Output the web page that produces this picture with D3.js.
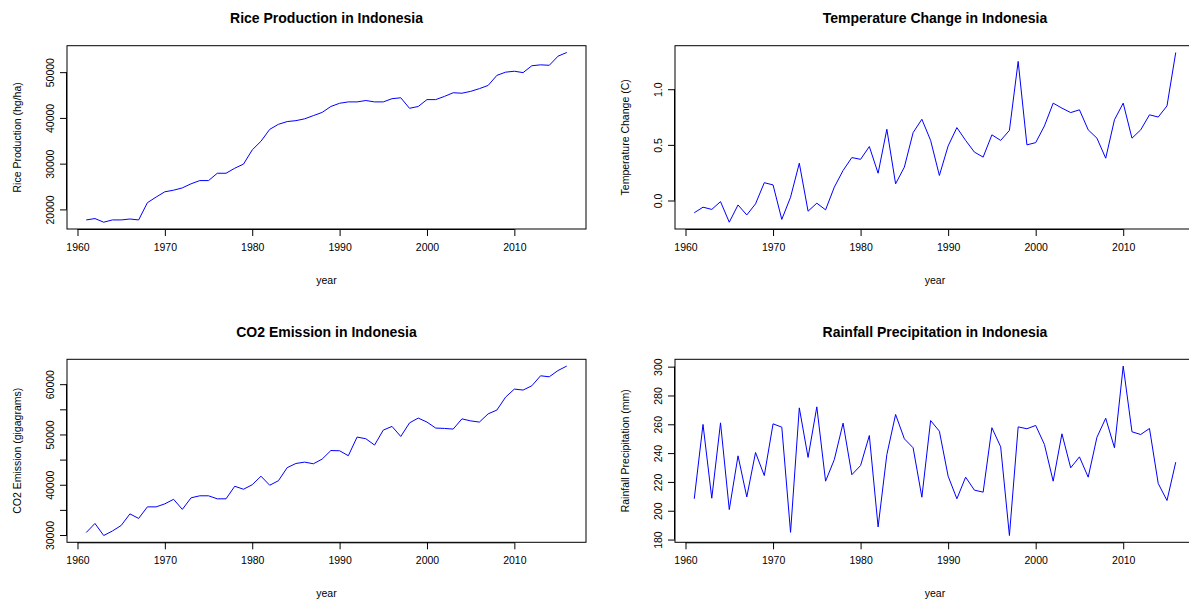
<!DOCTYPE html>
<html>
<head>
<meta charset="utf-8">
<script src="https://cdn.jsdelivr.net/npm/d3@7"></script>
<style>
  body { margin: 0; background: #fff; }
  text { font-family: "Liberation Sans", Arial, sans-serif; fill: #000; }
</style>
</head>
<body>
<div id="chart"></div>
<script>
var canvasWidth = 1189;
var canvasHeight = 603;

// years on the x axis
var years = d3.range(1961, 2017);
var xTicks = [1960, 1970, 1980, 1990, 2000, 2010];

// Rice production (hg/ha)
var rice = [17700, 18000, 17200, 17700, 17700, 17900, 17700, 21460, 22700, 23850,
            24200, 24700, 25600, 26300, 26300, 27900, 27900, 29000, 29900, 33000,
            34900, 37500, 38600, 39200, 39400, 39800, 40500, 41200, 42500, 43200,
            43500, 43500, 43800, 43500, 43500, 44200, 44400, 42100, 42500, 44000,
            44000, 44700, 45500, 45400, 45800, 46400, 47100, 49300, 50000, 50200,
            49900, 51400, 51600, 51500, 53500, 54300];
var riceTicks = [20000, 30000, 40000, 50000];

// Temperature change (C)
var temp = [-0.11, -0.06, -0.08, -0.01, -0.195, -0.04, -0.13, -0.03, 0.16, 0.14,
            -0.17, 0.03, 0.335, -0.096, -0.024, -0.084, 0.12, 0.27, 0.386, 0.37,
            0.485, 0.245, 0.64, 0.15, 0.30, 0.61, 0.73, 0.54, 0.225, 0.49,
            0.655, 0.54, 0.435, 0.39, 0.59, 0.54, 0.63, 1.25, 0.50, 0.52,
            0.67, 0.875, 0.83, 0.79, 0.815, 0.635, 0.56, 0.38, 0.725, 0.875,
            0.56, 0.635, 0.77, 0.75, 0.85, 1.33];
var tempTicks = [0, 0.5, 1.0];

// CO2 emission (gigagrams)
var co2 = [30500, 32300, 29900, 30800, 31900, 34200, 33300, 35600, 35600, 36200,
           37100, 35100, 37400, 37800, 37800, 37200, 37200, 39700, 39100, 40000,
           41700, 39900, 40800, 43400, 44230, 44500, 44170, 45100, 46800, 46760,
           45770, 49480, 49150, 47890, 50870, 51600, 49600, 52300, 53260, 52460,
           51270, 51200, 51070, 53100, 52700, 52460, 54100, 54850, 57430, 59020,
           58830, 59680, 61670, 61470, 62720, 63600];
var co2Ticks = [30000, 35000, 40000, 45000, 50000, 55000, 60000];

// Rainfall precipitation (mm)
var rain = [208.3, 259.9, 208.7, 261, 200.8, 238.1, 209.6, 240.4, 224.4, 260.3,
            258, 185, 271.4, 237, 272.1, 220.5, 235.5, 260.8, 225, 231.4,
            252.2, 188.8, 239, 266.8, 249.9, 243.7, 209.4, 262.6, 255.2, 224,
            208.3, 223.3, 214.3, 212.9, 257.6, 244.4, 182.8, 258.2, 256.9, 259.2,
            246, 220.5, 253.4, 229.8, 237.4, 223.3, 251, 264.2, 243.7, 300.4,
            254.8, 252.9, 257.1, 218.9, 207.1, 233.7];
var rainTicks = [180, 200, 220, 240, 260, 280, 300];

var panels = [
    {title: "Rice Production in Indonesia", ylab: "Rice Production (hg/ha)",
     values: rice, ticks: riceTicks, labelEvery: 1, fmt: d3.format("d"), col: 0, row: 0},
    {title: "Temperature Change in Indonesia", ylab: "Temperature Change (C)",
     values: temp, ticks: tempTicks, labelEvery: 1, fmt: d3.format(".1f"), col: 1, row: 0},
    {title: "CO2 Emission in Indonesia", ylab: "CO2 Emission (gigagrams)",
     values: co2, ticks: co2Ticks, labelEvery: 2, fmt: d3.format("d"), col: 0, row: 1},
    {title: "Rainfall Precipitation in Indonesia", ylab: "Rainfall Precipitation (mm)",
     values: rain, ticks: rainTicks, labelEvery: 1, fmt: d3.format("d"), col: 1, row: 1}
];

// plot boxes (the right column runs past the window edge, like the original)
var boxX = [[67, 586], [675, 1195]];
var boxY = [[45.7, 229], [359.3, 542.3]];

var svg = d3.select("#chart")
    .append("svg")
    .attr("width", canvasWidth)
    .attr("height", canvasHeight);

panels.forEach(function(p) {
    var x0 = boxX[p.col][0], x1 = boxX[p.col][1];
    var y0 = boxY[p.row][0], y1 = boxY[p.row][1];

    // R style: data range padded by 4% on each side
    var xr = d3.extent(years), xp = (xr[1] - xr[0]) * 0.04;
    var yr = d3.extent(p.values), yp = (yr[1] - yr[0]) * 0.04;

    var x = d3.scaleLinear().domain([xr[0] - xp, xr[1] + xp]).range([x0, x1]);
    var y = d3.scaleLinear().domain([yr[0] - yp, yr[1] + yp]).range([y1, y0]);

    var g = svg.append("g");

    // x axis
    var xAxis = d3.axisBottom(x).tickValues(xTicks).tickFormat(d3.format("d"))
        .tickSize(7).tickPadding(4);
    g.append("g")
        .attr("transform", "translate(0," + y1 + ")")
        .call(xAxis)
        .call(function(a) {
            a.select(".domain").attr("d", "M" + x(xTicks[0]) + ",0.5H" + x(xTicks[xTicks.length - 1]));
            a.selectAll("text").attr("font-size", "10.5px").attr("dy", "1.05em")
                .style("font-family", "'Liberation Sans', Arial, sans-serif").attr("fill", "#000");
            a.selectAll("line,path").attr("stroke", "#000");
        });

    // y axis, labels turned like R's default las=0
    var yAxis = d3.axisLeft(y).tickValues(p.ticks)
        .tickFormat(function(d, i) { return i % p.labelEvery === 0 ? p.fmt(d) : ""; })
        .tickSize(7).tickPadding(0);
    g.append("g")
        .attr("transform", "translate(" + x0 + ",0)")
        .call(yAxis)
        .call(function(a) {
            a.select(".domain").attr("d", "M-0.5," + y(p.ticks[0]) + "V" + y(p.ticks[p.ticks.length - 1]));
            a.selectAll("line,path").attr("stroke", "#000");
            a.selectAll("text")
                .attr("x", null).attr("dy", null)
                .attr("transform", "translate(-13.5,0) rotate(-90)")
                .attr("text-anchor", "middle")
                .attr("font-size", "10.5px")
                .style("font-family", "'Liberation Sans', Arial, sans-serif")
                .attr("fill", "#000");
        });

    // plot box
    g.append("rect")
        .attr("x", x0).attr("y", y0)
        .attr("width", x1 - x0).attr("height", y1 - y0)
        .attr("fill", "none").attr("stroke", "#000").attr("stroke-width", 1);

    // series line
    var line = d3.line()
        .x(function(d, i) { return x(years[i]); })
        .y(function(d) { return y(d); });
    g.append("path")
        .datum(p.values)
        .attr("d", line)
        .attr("fill", "none")
        .attr("stroke", "#0000ff")
        .attr("stroke-width", 1);

    // titles
    var cx = (x0 + x1) / 2;
    g.append("text")
        .attr("x", cx).attr("y", y0 - 22.4)
        .attr("text-anchor", "middle")
        .attr("font-size", "14px").attr("font-weight", "bold")
        .text(p.title);
    g.append("text")
        .attr("x", cx).attr("y", y1 + 55)
        .attr("text-anchor", "middle")
        .attr("font-size", "10.5px")
        .text("year");
    g.append("text")
        .attr("transform", "translate(" + (x0 - 46) + "," + ((y0 + y1) / 2) + ") rotate(-90)")
        .attr("text-anchor", "middle")
        .attr("font-size", "10.5px")
        .text(p.ylab);
});
</script>
</body>
</html>
